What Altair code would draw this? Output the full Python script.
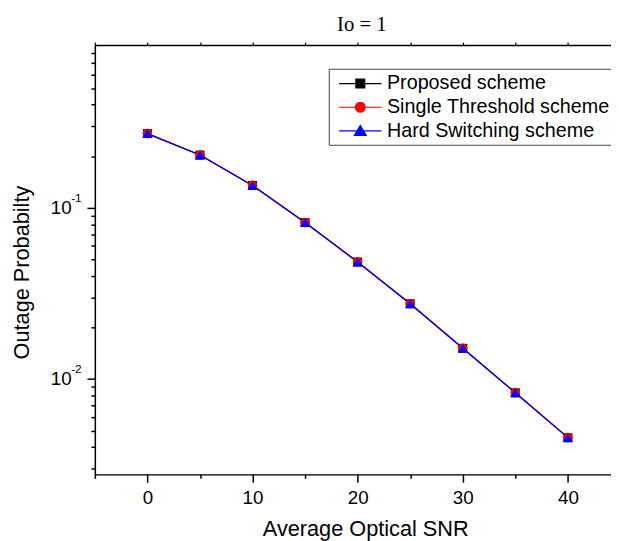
import altair as alt
import pandas as pd

# ---- data ----
snr = [0, 5, 10, 15, 20, 25, 30, 35, 40]
proposed = [0.271, 0.203, 0.135, 0.0819, 0.0482, 0.0275, 0.0151, 0.0083, 0.00454]
single = [0.271, 0.203, 0.135, 0.0819, 0.0482, 0.0275, 0.0151, 0.0083, 0.00454]
hard = [0.271, 0.203, 0.135, 0.0819, 0.0482, 0.0275, 0.0151, 0.0083, 0.00454]

series_names = ["Proposed scheme", "Single Threshold scheme", "Hard Switching scheme"]
series_colors = ["#000000", "#ff0000", "#0000ff"]
series_shapes = ["square", "circle", "triangle-up"]
series_sizes = [81, 110, 150]

x_ticks = [-5, 0, 5, 10, 15, 20, 25, 30, 35, 40]
y_ticks = [0.003, 0.004, 0.005, 0.006, 0.007, 0.008, 0.009,
           0.01, 0.02, 0.03, 0.04, 0.05, 0.06, 0.07, 0.08, 0.09,
           0.1, 0.2, 0.3, 0.4, 0.5, 0.6, 0.7, 0.8]
decades = [0.1, 0.01]
exponents = ["-1", "-2"]

X_DOMAIN = [-5, 44.1]
Y_DOMAIN = [0.00277, 0.891]

rows = []
for name, vals in zip(series_names, [proposed, single, hard]):
    for s, v in zip(snr, vals):
        rows.append({"snr": s, "p": v, "series": name})
df = pd.DataFrame(rows)
exp_df = pd.DataFrame({"val": decades, "exp": exponents})

FONT = "Liberation Sans"

xscale = alt.Scale(domain=X_DOMAIN, nice=False, zero=False)
yscale = alt.Scale(type="log", domain=Y_DOMAIN, nice=False)

yaxis = alt.Axis(
    values=y_ticks,
    labelExpr="datum.value == 0.1 || datum.value == 0.01 ? '10' : ''",
    tickSize={"condition": {"test": "datum.value == 0.1 || datum.value == 0.01", "value": 8}, "value": 4},
    labelPadding=16, labelFontSize=19, labelFont=FONT, labelColor="#000",
    title="Outage Probabilty", titleFont=FONT, titleFontSize=22, titleFontWeight="normal",
    titleColor="#000", titleAngle=-90, titleX=-74, titleY=230, titleBaseline="middle",
    titleAlign="center",
    domainColor="#000", domainWidth=1.5, tickColor="#000", tickWidth=1.5, grid=False,
)

xaxis_bottom = alt.Axis(
    values=x_ticks, orient="bottom",
    labelExpr="datum.value % 10 == 0 ? datum.label : ''",
    tickSize={"condition": {"test": "datum.value % 10 == 0", "value": 8}, "value": 4},
    labelPadding=6, labelFontSize=19, labelFont=FONT, labelColor="#000",
    title="Average Optical SNR", titleFont=FONT, titleFontSize=22, titleFontWeight="normal",
    titleColor="#000", titleX=274, titleY=62, titleBaseline="alphabetic", titleAlign="center",
    domainColor="#000", domainWidth=1.5, tickColor="#000", tickWidth=1.5, grid=False,
)

xaxis_top = alt.Axis(
    values=x_ticks, orient="top", labels=False, tickSize=3, title=None,
    domainColor="#000", domainWidth=1.5, tickColor="#000", tickWidth=1.2, grid=False,
)

base = alt.Chart(df)

# legend symbols: a short line with the series marker in its middle
legend_paths = [
    "M-2.15,0H2.15M-0.45,-0.45H0.45V0.45H-0.45Z",
    "M-2.15,0H2.15M-0.5,0A0.5,0.5,0,1,1,0.5,0A0.5,0.5,0,1,1,-0.5,0Z",
    "M-2.15,0H2.15M0,-0.55L0.6,0.45H-0.6Z",
]

legend = alt.Legend(
    title=None, orient="none", legendX=237, legendY=24,
    labelFont=FONT, labelFontSize=20, labelColor="#000", labelLimit=400,
    symbolSize=400, symbolOffset=17, labelOffset=16, symbolStrokeWidth=1.2,
    symbolOpacity=1,
    padding=4, rowPadding=3,
    strokeColor="#444", fillColor="#ffffff",
)

layers = []
for i, (name, col) in enumerate(zip(series_names, series_colors)):
    layers.append(
        base.transform_filter(alt.datum.series == name)
        .mark_line(color=col, strokeWidth=1.2)
        .encode(
            x=alt.X("snr:Q", scale=xscale, axis=xaxis_top if i == 0 else None),
            y=alt.Y("p:Q", scale=yscale, axis=yaxis),
        )
    )

points = base.mark_point(filled=True, opacity=1).encode(
    x=alt.X("snr:Q", scale=xscale, axis=xaxis_bottom),
    y=alt.Y("p:Q", scale=yscale, axis=yaxis),
    color=alt.Color("series:N", scale=alt.Scale(domain=series_names, range=series_colors),
                    legend=None),
    shape=alt.Shape("series:N", scale=alt.Scale(domain=series_names, range=series_shapes),
                    legend=None),
    size=alt.Size("series:N", scale=alt.Scale(domain=series_names, range=series_sizes),
                  legend=None),
)
layers.append(points)

legend_layer = base.transform_filter("false").mark_point(filled=True, opacity=1).encode(
    x=alt.X("snr:Q", scale=xscale, axis=None),
    y=alt.Y("p:Q", scale=yscale, axis=yaxis),
    fill=alt.Fill("series:N", scale=alt.Scale(domain=series_names, range=series_colors),
                  legend=legend),
    stroke=alt.Stroke("series:N", scale=alt.Scale(domain=series_names, range=series_colors),
                      legend=legend),
    shape=alt.Shape("series:N", scale=alt.Scale(domain=series_names, range=legend_paths),
                    legend=legend),
)
layers.append(legend_layer)

exps = alt.Chart(exp_df).mark_text(
    align="left", baseline="middle", dx=-24, dy=-10, fontSize=12, font=FONT, color="#000"
).encode(
    x=alt.XDatum(X_DOMAIN[0], type="quantitative", scale=xscale, axis=None),
    y=alt.Y("val:Q", scale=yscale, axis=yaxis),
    text="exp:N",
)
layers.append(exps)

chart = alt.layer(*layers).resolve_axis(x="independent").resolve_scale(
    shape="independent", fill="independent", stroke="independent", size="independent"
).properties(
    width=523, height=435,
    autosize=alt.AutoSizeParams(type="none"),
    padding={"left": 88, "top": 34, "right": 0, "bottom": 70},
    title=alt.TitleParams(text="Io = 1", font="Liberation Serif", fontSize=21,
                          fontWeight="normal", color="#000", anchor="middle",
                          dx=9, dy=16, offset=2, baseline="bottom"),
).configure_view(strokeWidth=0).configure(background="white")

chart.save("out.html", embed_options={"renderer": "svg", "actions": False})
